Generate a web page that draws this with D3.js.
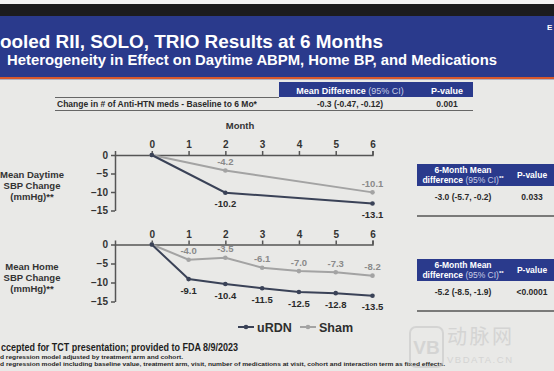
<!DOCTYPE html>
<html>
<head>
<meta charset="utf-8">
<script src="https://cdn.jsdelivr.net/npm/d3@7"></script>
<style>
  body { margin: 0; background: #e9e9e7; }
  svg { display: block; font-family: "Liberation Sans", Arial, sans-serif; }
</style>
</head>
<body>
<svg id="chart"></svg>
<script>
// chart data
var monthTicks = [0, 1, 2, 3, 4, 5, 6];
var yTicks = [0, -5, -10, -15];

var dayMonths = [0, 2, 6];
var dayURDN = [0, -10.2, -13.1];
var daySham = [0, -4.2, -10.1];

var homeMonths = [0, 1, 2, 3, 4, 5, 6];
var homeURDN = [0, -9.1, -10.4, -11.5, -12.5, -12.8, -13.5];
var homeSham = [0, -4.0, -3.5, -6.1, -7.0, -7.3, -8.2];

var medsRow = ['Change in # of Anti-HTN meds - Baseline to 6 Mo*', '-0.3 (-0.47, -0.12)', '0.001'];
var dayDiff = ['-3.0 (-5.7, -0.2)', '0.033'];
var homeDiff = ['-5.2 (-8.5, -1.9)', '<0.0001'];

var width = 554, height = 371;
var navy = '#2a3a8c';
var darkLine = '#3a4257';
var lightLine = '#a3a3a3';

var svg = d3.select('#chart').attr('width', width).attr('height', height);

// slide background + header band
svg.append('rect').attr('width', width).attr('height', height).attr('fill', '#e9e9e7');
svg.append('rect').attr('width', width).attr('height', 4).attr('fill', '#f4f4f4');
svg.append('rect').attr('y', 4).attr('width', width).attr('height', 12).attr('fill', '#1c1c1e');
svg.append('rect').attr('y', 16).attr('width', width).attr('height', 61).attr('fill', navy);
svg.append('rect').attr('y', 77).attr('width', width).attr('height', 2).attr('fill', '#d8582c');
svg.append('rect').attr('y', 79).attr('width', width).attr('height', 1).attr('fill', '#b0b0c0');

// the photo crops the slide on the left, so only the visible part of each line is drawn
svg.append('text').attr('x', 0).attr('y', 48)
    .attr('fill', '#fff').attr('font-size', 19).attr('font-weight', 'bold')
    .attr('textLength', 383).attr('lengthAdjust', 'spacingAndGlyphs')
    .text('ooled RII, SOLO, TRIO Results at 6 Months');
svg.append('text').attr('x', 7).attr('y', 65)
    .attr('fill', '#fff').attr('font-size', 14.7).attr('font-weight', 'bold')
    .attr('textLength', 490).attr('lengthAdjust', 'spacingAndGlyphs')
    .text('Heterogeneity in Effect on Daytime ABPM, Home BP, and Medications');
svg.append('text').attr('x', 547).attr('y', 30)
    .attr('fill', '#fff').attr('font-size', 8).attr('font-weight', 'bold').text('E');

// medications table at the top
svg.append('rect').attr('x', 279).attr('y', 82).attr('width', 194).attr('height', 15).attr('fill', navy);
svg.append('text').attr('x', 350).attr('y', 93.5).attr('text-anchor', 'middle')
    .attr('fill', '#fff').attr('font-size', 9).attr('font-weight', 'bold')
    .text('Mean Difference ').append('tspan').attr('font-weight', 'normal').attr('fill', '#c9cde6').text('(95% CI)');
svg.append('text').attr('x', 447).attr('y', 93.5).attr('text-anchor', 'middle')
    .attr('fill', '#fff').attr('font-size', 9).attr('font-weight', 'bold').text('P-value');
svg.append('line').attr('x1', 55).attr('x2', 279).attr('y1', 97.5).attr('y2', 97.5).attr('stroke', '#666').attr('stroke-width', 1.2);
svg.append('line').attr('x1', 55).attr('x2', 473).attr('y1', 110.5).attr('y2', 110.5).attr('stroke', '#666').attr('stroke-width', 1.2);
svg.append('text').attr('x', 57).attr('y', 107).attr('fill', '#2a2a2a')
    .attr('font-size', 8.5).attr('font-weight', 'bold').text(medsRow[0]);
svg.append('text').attr('x', 350).attr('y', 107).attr('text-anchor', 'middle').attr('fill', '#2a2a2a')
    .attr('font-size', 8.5).attr('font-weight', 'bold').text(medsRow[1]);
svg.append('text').attr('x', 447).attr('y', 107).attr('text-anchor', 'middle').attr('fill', '#2a2a2a')
    .attr('font-size', 8.5).attr('font-weight', 'bold').text(medsRow[2]);

svg.append('text').attr('x', 240).attr('y', 128.5).attr('text-anchor', 'middle')
    .attr('fill', '#333').attr('font-size', 9.5).attr('font-weight', 'bold').text('Month');

var x = d3.scaleLinear().domain([-1, 6]).range([115, 372.5]);

// draws one panel: axes, two lines, value labels
function drawPanel(y0, y1, months, urdn, sham, titleLines, titleY) {
    var y = d3.scaleLinear().domain([0, -15]).range([y0, y1]);
    var g = svg.append('g');

    var xAxis = g.append('g').attr('transform', 'translate(0,' + y(0) + ')')
        .call(d3.axisTop(x).tickValues(monthTicks).tickSize(4).tickSizeOuter(4).tickPadding(3)
            .tickFormat(d3.format('d')));
    var yAxis = g.append('g').attr('transform', 'translate(' + x(-1) + ',0)')
        .call(d3.axisLeft(y).tickValues(yTicks).tickSize(4).tickSizeOuter(0).tickPadding(3)
            .tickFormat(d3.format('d')));
    [xAxis, yAxis].forEach(function(a) {
        a.selectAll('path, line').attr('stroke', '#555').attr('stroke-width', 1.5);
        a.selectAll('text').attr('fill', '#333').attr('font-size', 10).attr('font-weight', 'bold')
            .attr('font-family', '"Liberation Sans", Arial, sans-serif');
    });

    var line = d3.line()
        .x(function(d, i) { return x(months[i]); })
        .y(function(d) { return y(d); });

    [[sham, lightLine, '#8a8a8a', -9], [urdn, darkLine, '#2a2a2a', 11]].forEach(function(s) {
        g.append('path').datum(s[0]).attr('d', line)
            .attr('fill', 'none').attr('stroke', s[1]).attr('stroke-width', 2);
        g.selectAll(null).data(s[0]).enter().append('circle')
            .attr('cx', function(d, i) { return x(months[i]); })
            .attr('cy', function(d) { return y(d); })
            .attr('r', 2.3).attr('fill', s[1]);
        g.selectAll(null).data(s[0]).enter().filter(function(d, i) { return i > 0; })
            .append('text')
            .attr('x', function(d, i) { return x(months[i + 1]); })
            .attr('y', function(d) { return y(d) + s[3] + 3.5; })
            .attr('text-anchor', 'middle').attr('fill', s[2])
            .attr('font-size', 9.5).attr('font-weight', 'bold')
            .text(function(d) { return d.toFixed(1); });
    });

    g.selectAll(null).data(titleLines).enter().append('text')
        .attr('x', 32).attr('y', function(d, i) { return titleY + i * 11; })
        .attr('text-anchor', 'middle').attr('fill', '#333')
        .attr('font-size', 9.5).attr('font-weight', 'bold')
        .text(function(d) { return d; });
}

drawPanel(155, 210.5, dayMonths, dayURDN, daySham, ['Mean Daytime', 'SBP Change', '(mmHg)**'], 178);
drawPanel(244.5, 301.5, homeMonths, homeURDN, homeSham, ['Mean Home', 'SBP Change', '(mmHg)**'], 270);

// 6-month difference tables on the right
function diffTable(top, vals) {
    svg.append('rect').attr('x', 417).attr('y', top).attr('width', 137).attr('height', 22).attr('fill', navy);
    var t = svg.append('text').attr('x', 463).attr('y', top + 8.5).attr('text-anchor', 'middle')
        .attr('fill', '#fff').attr('font-size', 8.5).attr('font-weight', 'bold');
    t.append('tspan').attr('x', 463).text('6-Month Mean');
    var l2 = t.append('tspan').attr('x', 463).attr('dy', 10).text('difference ');
    l2.append('tspan').attr('font-weight', 'normal').attr('fill', '#c9cde6').text('(95% CI)');
    l2.append('tspan').attr('font-size', 6).attr('dy', -3).text('**');
    svg.append('text').attr('x', 532).attr('y', top + 14).attr('text-anchor', 'middle')
        .attr('fill', '#fff').attr('font-size', 8.5).attr('font-weight', 'bold').text('P-value');
    svg.append('text').attr('x', 463).attr('y', top + 36).attr('text-anchor', 'middle')
        .attr('fill', '#2a2a2a').attr('font-size', 8.5).attr('font-weight', 'bold').text(vals[0]);
    svg.append('text').attr('x', 532).attr('y', top + 36).attr('text-anchor', 'middle')
        .attr('fill', '#2a2a2a').attr('font-size', 8.5).attr('font-weight', 'bold').text(vals[1]);
    svg.append('line').attr('x1', 417).attr('x2', 554).attr('y1', top + 52).attr('y2', top + 52)
        .attr('stroke', '#555').attr('stroke-width', 1.5);
}
diffTable(164, dayDiff);
diffTable(259, homeDiff);

// legend
var legend = svg.append('g').attr('transform', 'translate(238,327)');
[['uRDN', darkLine, 0], ['Sham', lightLine, 62]].forEach(function(d) {
    legend.append('line').attr('x1', d[2]).attr('x2', d[2] + 16).attr('stroke', d[1]).attr('stroke-width', 2);
    legend.append('circle').attr('cx', d[2] + 8).attr('r', 2.3).attr('fill', d[1]);
    legend.append('text').attr('x', d[2] + 19).attr('y', 4.5).attr('fill', '#2e2e2e')
        .attr('font-size', 12.5).attr('font-weight', 'bold').text(d[0]);
});

// footnotes
svg.append('text').attr('x', 1).attr('y', 351).attr('fill', '#1e1e1e')
    .attr('font-size', 10).attr('font-weight', 'bold').attr('textLength', 237).attr('lengthAdjust', 'spacingAndGlyphs')
    .text('ccepted for TCT presentation; provided to FDA 8/9/2023');
svg.append('text').attr('x', 0).attr('y', 359).attr('fill', '#1e1e1e')
    .attr('font-size', 5.5).attr('font-weight', 'bold').attr('textLength', 183).attr('lengthAdjust', 'spacingAndGlyphs')
    .text('d regression model adjusted by treatment arm and cohort.');
svg.append('text').attr('x', 0).attr('y', 366).attr('fill', '#1e1e1e')
    .attr('font-size', 5.5).attr('font-weight', 'bold').attr('textLength', 445).attr('lengthAdjust', 'spacingAndGlyphs')
    .text('d regression model including baseline value, treatment arm, visit, number of medications at visit, cohort and interaction term as fixed effects.');

// faint watermark
var wm = svg.append('g').attr('opacity', 0.55);
wm.append('rect').attr('x', 410).attr('y', 327).attr('width', 33).attr('height', 40).attr('rx', 6)
    .attr('fill', 'none').attr('stroke', '#c4c4c4').attr('stroke-width', 2);
wm.append('text').attr('x', 426.5).attr('y', 354).attr('text-anchor', 'middle').attr('fill', '#c4c4c4')
    .attr('font-size', 19).attr('font-weight', 'bold').text('VB');
wm.append('text').attr('x', 447).attr('y', 344).attr('fill', '#c4c4c4')
    .attr('font-family', '"Noto Sans CJK SC"').attr('font-size', 20).attr('textLength', 65).text('动脉网');
wm.append('text').attr('x', 447).attr('y', 363).attr('fill', '#c4c4c4')
    .attr('font-size', 9.5).attr('textLength', 65).text('VBDATA.CN');
</script>
</body>
</html>
